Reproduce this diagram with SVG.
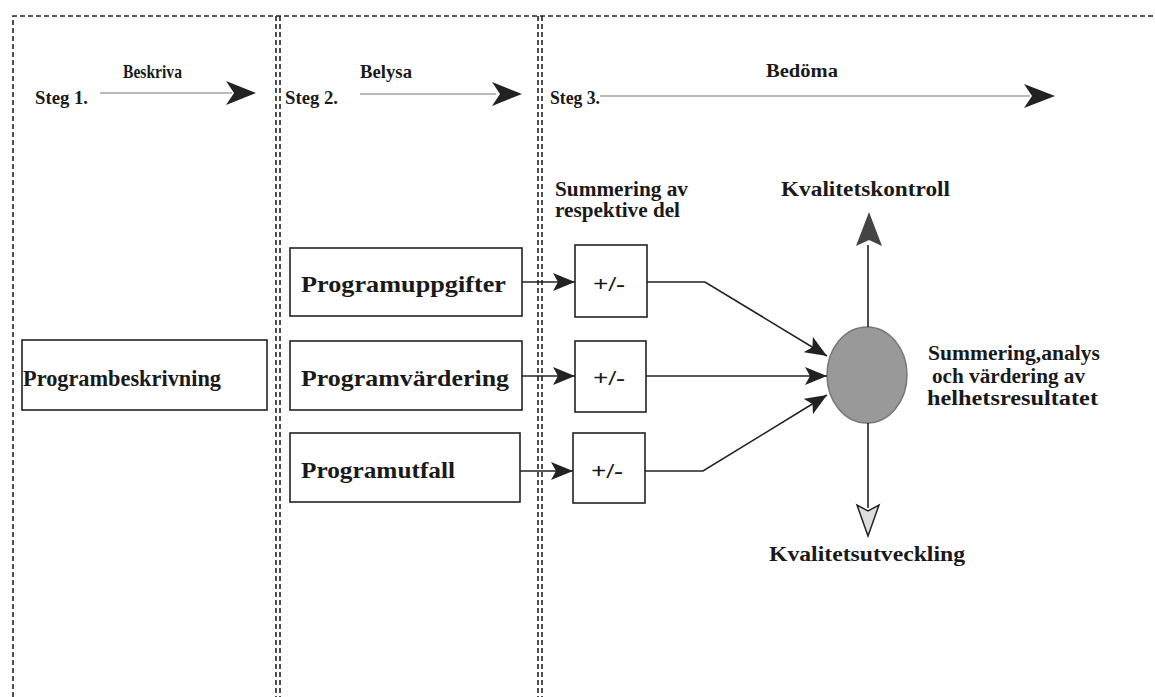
<svg xmlns="http://www.w3.org/2000/svg" width="1155" height="697" viewBox="0 0 1155 697">
<style>
text{font-family:"Liberation Serif","Times New Roman",serif;font-weight:bold;fill:#1a1a1a}
.dash{stroke:#222;stroke-width:1.6;stroke-dasharray:5 3;fill:none}
.box{fill:#fff;stroke:#222;stroke-width:1.6}
.ln{stroke:#222;stroke-width:1.6;fill:none}
.hdr{stroke:#777;stroke-width:1.2;fill:none}
.lbl{font-size:23px}
.hd{font-size:18px}
.sm{font-size:20px}
.pm{font-size:22px}
</style>
<defs>
<marker id="ahb" viewBox="0 0 22 18" refX="22" refY="9" markerWidth="22" markerHeight="18" markerUnits="userSpaceOnUse" orient="auto">
<path d="M0,0 L22,9 L0,18 L5,9 Z" fill="#222"/>
</marker>
</defs>
<rect width="1155" height="697" fill="#fff"/>
<g id="columns">
<path class="dash" d="M13,697 V16 H1155"/>
<path class="dash" d="M276,16 V697 M280,16 V697"/>
<path class="dash" d="M538,16 V697 M542,16 V697"/>
</g>
<g id="header">
<text class="hd" x="35" y="104" textLength="53" lengthAdjust="spacingAndGlyphs">Steg 1.</text>
<text class="hd" x="123" y="78" textLength="59" lengthAdjust="spacingAndGlyphs">Beskriva</text>
<line class="hdr" x1="100" y1="93" x2="232" y2="93"/>
<path d="M226,81 L256,93 L226,105 L234,93 Z" fill="#222"/>
<text class="hd" x="285" y="104" textLength="53" lengthAdjust="spacingAndGlyphs">Steg 2.</text>
<text class="hd" x="360" y="78" textLength="52" lengthAdjust="spacingAndGlyphs">Belysa</text>
<line class="hdr" x1="360" y1="94" x2="496" y2="94"/>
<path d="M492,82 L522,94 L492,106 L500,94 Z" fill="#222"/>
<text class="hd" x="550" y="104" textLength="50" lengthAdjust="spacingAndGlyphs">Steg 3.</text>
<text class="hd" x="766" y="77" textLength="72" lengthAdjust="spacingAndGlyphs">Bedöma</text>
<line class="hdr" x1="600" y1="96" x2="1030" y2="96"/>
<path d="M1024,84 L1055,96 L1024,108 L1032,96 Z" fill="#222"/>
</g>
<g id="n-programbeskrivning">
<rect class="box" x="22" y="340" width="245" height="70"/>
<text class="lbl" x="23" y="386" textLength="198" lengthAdjust="spacingAndGlyphs">Programbeskrivning</text>
</g>
<g id="n-programuppgifter">
<rect class="box" x="290" y="248" width="232" height="68"/>
<text class="lbl" x="301" y="292" textLength="205" lengthAdjust="spacingAndGlyphs">Programuppgifter</text>
</g>
<g id="n-programvardering">
<rect class="box" x="290" y="341" width="232" height="69"/>
<text class="lbl" x="301" y="386" textLength="208" lengthAdjust="spacingAndGlyphs">Programvärdering</text>
</g>
<g id="n-programutfall">
<rect class="box" x="290" y="433" width="230" height="69"/>
<text class="lbl" x="301" y="478" textLength="154" lengthAdjust="spacingAndGlyphs">Programutfall</text>
</g>
<g id="n-sum1">
<rect class="box" x="575" y="245" width="72" height="72"/>
<text class="pm" x="593" y="291" textLength="32" lengthAdjust="spacingAndGlyphs">+/-</text>
</g>
<g id="n-sum2">
<rect class="box" x="575" y="341" width="71" height="71"/>
<text class="pm" x="593" y="385" textLength="32" lengthAdjust="spacingAndGlyphs">+/-</text>
</g>
<g id="n-sum3">
<rect class="box" x="573" y="433" width="72" height="70"/>
<text class="pm" x="591" y="478" textLength="32" lengthAdjust="spacingAndGlyphs">+/-</text>
</g>
<g id="n-center">
<ellipse cx="867" cy="375" rx="40" ry="48" fill="#999" stroke="#777" stroke-width="1.5"/>
</g>
<g id="labels">
<text class="sm" x="555" y="196" textLength="133" lengthAdjust="spacingAndGlyphs">Summering av</text>
<text class="sm" x="555" y="217" textLength="125" lengthAdjust="spacingAndGlyphs">respektive del</text>
<text class="sm" x="781" y="196" textLength="169" lengthAdjust="spacingAndGlyphs">Kvalitetskontroll</text>
<text class="sm" x="769" y="561" textLength="196" lengthAdjust="spacingAndGlyphs">Kvalitetsutveckling</text>
<text class="sm" x="928" y="360" textLength="172" lengthAdjust="spacingAndGlyphs">Summering,analys</text>
<text class="sm" x="932" y="383" textLength="153" lengthAdjust="spacingAndGlyphs">och värdering av</text>
<text class="sm" x="927" y="405" textLength="171" lengthAdjust="spacingAndGlyphs">helhetsresultatet</text>
</g>
<g id="connectors">
<line class="ln" x1="522" y1="282" x2="575" y2="282" marker-end="url(#ahb)"/>
<line class="ln" x1="522" y1="376" x2="575" y2="376" marker-end="url(#ahb)"/>
<line class="ln" x1="520" y1="471" x2="573" y2="471" marker-end="url(#ahb)"/>
<polyline class="ln" points="647,282 705,282 827,356" marker-end="url(#ahb)"/>
<line class="ln" x1="646" y1="376" x2="827" y2="376" marker-end="url(#ahb)"/>
<polyline class="ln" points="645,471 703,471 827,395" marker-end="url(#ahb)"/>
<line class="ln" x1="868" y1="327" x2="868" y2="245"/>
<path d="M869,212 L882,246 L869,240 L856,246 Z" fill="#444"/>
<line class="ln" x1="868" y1="423" x2="868" y2="508"/>
<path d="M868,536 L857,505 L868,511 L879,505 Z" fill="#ddd" stroke="#222" stroke-width="1.5"/>
</g>
</svg>
